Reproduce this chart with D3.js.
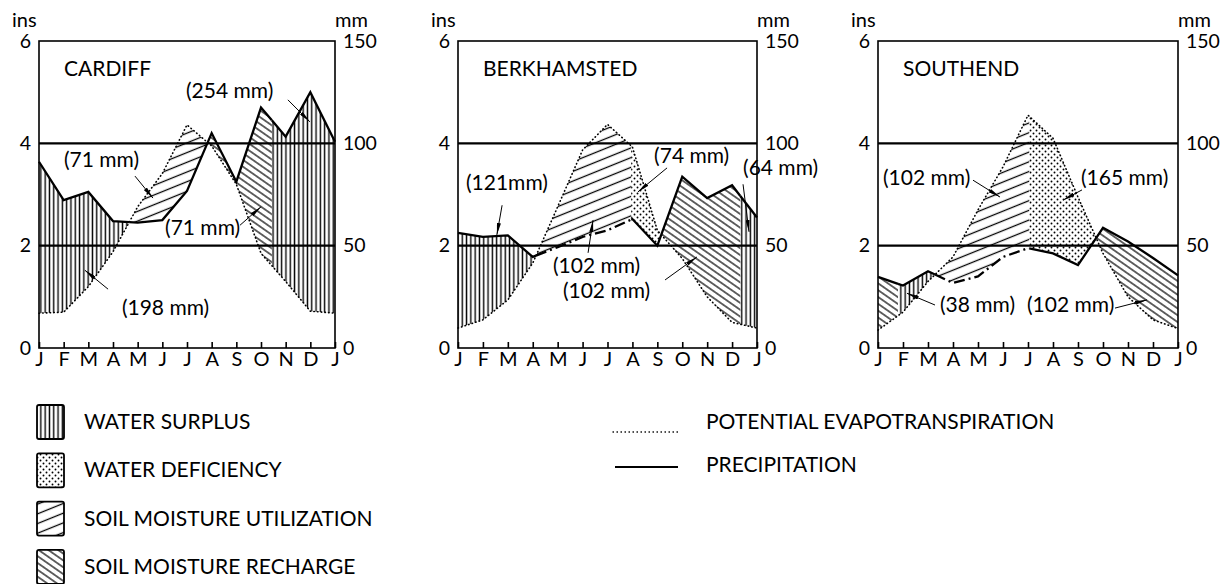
<!DOCTYPE html>
<html><head><meta charset="utf-8">
<script src="https://cdn.jsdelivr.net/npm/d3@7"></script>
<style>
body{margin:0;background:#fff}
svg{display:block;font-family:Lato,"Open Sans",sans-serif}
</style></head><body>
<svg id="c" width="1221" height="584"></svg>
<script>
// ---------- DATA ----------
const months = ["J","F","M","A","M","J","J","A","S","O","N","D","J"];
const insTicks = [0,2,4,6];
const mmTicks = [0,50,100,150];
const stationNames = ["CARDIFF","BERKHAMSTED","SOUTHEND"];

// monthly values in inches (Jan..Dec, Jan)
const cardiffPrecip = [3.64,2.89,3.05,2.48,2.45,2.5,3.07,4.2,3.25,4.7,4.13,5.0,4.03];
const cardiffPE     = [0.68,0.7,1.2,1.88,2.76,3.41,4.36,3.95,3.2,1.85,1.3,0.72,0.68];
const berkPrecip    = [2.25,2.17,2.2,1.78,1.97,2.17,2.3,2.52,2.0,3.35,2.93,3.18,2.55];
const berkPE        = [0.39,0.55,0.94,1.66,2.76,3.87,4.37,3.93,2.3,1.75,1.0,0.5,0.39];
const southPrecip   = [1.39,1.22,1.5,1.27,1.4,1.78,1.95,1.85,1.62,2.35,2.08,1.76,1.42];
const southPE       = [0.35,0.7,1.3,1.78,2.7,3.54,4.55,4.1,2.95,1.85,1.0,0.55,0.38];

// water-balance zones: type of each zone and the month positions bounding them
const cardiffZones  = ["surplus","utilization","recharge","surplus"];
const cardiffBreaks = [0,3.66,6.84,9.44,12];
const berkZones     = ["surplus","utilization","deficiency","recharge","surplus"];
const berkBreaks    = [0,3.13,6.95,8.16,11.33,12];
const southZones    = ["recharge","surplus","utilization","deficiency","recharge"];
const southBreaks   = [0,0.8,2.28,6.05,8.73,12];
// precipitation drawn dash-dot beneath the utilization zone
const dashedUnderUtilization = [false,true,true];

// annotations: label, label anchor [month, ins], arrow from/to [month, ins]
const cardiffNotes = [
  {label:"(254 mm)", at:[5.96,4.89], from:[10.09,4.85], to:[10.98,4.42]},
  {label:"(71 mm)",  at:[1.01,3.54], from:[3.89,3.36],  to:[4.62,2.93]},
  {label:"(71 mm)",  at:[5.11,2.21], from:[8.15,2.40],  to:[9.0,2.76]},
  {label:"(198 mm)", at:[3.36,0.64], from:[2.80,1.15],  to:[1.86,1.52]}
];
const berkNotes = [
  {label:"(121mm)",  at:[0.32,3.09], from:[1.77,2.79], to:[1.56,2.21]},
  {label:"(74 mm)",  at:[7.87,3.62], from:[8.39,3.52], to:[7.22,3.05]},
  {label:"(64 mm)",  at:[11.44,3.38],from:[11.44,3.2], to:[11.68,2.27]},
  {label:"(102 mm)", at:[3.81,1.47], from:[5.22,1.86], to:[5.42,2.5]},
  {label:"(102 mm)", at:[4.21,0.98], from:[8.31,1.33], to:[9.59,1.78]}
];
const southNotes = [
  {label:"(102 mm)", at:[0.2,3.19],  from:[3.8,3.28],  to:[4.88,2.95]},
  {label:"(165 mm)", at:[8.12,3.19], from:[8.16,3.09], to:[7.4,2.89]},
  {label:"(38 mm)",  at:[2.48,0.70], from:[2.28,0.84], to:[1.16,1.07]},
  {label:"(102 mm)", at:[5.96,0.70], from:[9.48,0.78], to:[10.76,0.94]}
];

const legendAreas = [
  {type:"surplus", label:"WATER SURPLUS"},
  {type:"deficiency", label:"WATER DEFICIENCY"},
  {type:"utilization", label:"SOIL MOISTURE UTILIZATION"},
  {type:"recharge", label:"SOIL MOISTURE RECHARGE"}
];
const legendLines = ["POTENTIAL EVAPOTRANSPIRATION","PRECIPITATION"];

const stations = [
  {name:stationNames[0], precip:cardiffPrecip, pe:cardiffPE, zones:cardiffZones, breaks:cardiffBreaks, notes:cardiffNotes},
  {name:stationNames[1], precip:berkPrecip, pe:berkPE, zones:berkZones, breaks:berkBreaks, notes:berkNotes},
  {name:stationNames[2], precip:southPrecip, pe:southPE, zones:southZones, breaks:southBreaks, notes:southNotes}
];

// ---------- LAYOUT ----------
const svg = d3.select("#c");
const panelX = [[39,335],[458,757],[878,1178]];
const yTop = 41, yBottom = 348;
const FS = 21;

const defs = svg.append("defs");
function linePattern(id, w, h, angle, sw){
  const p = defs.append("pattern").attr("id",id).attr("patternUnits","userSpaceOnUse")
    .attr("width",w).attr("height",h).attr("patternTransform",`rotate(${angle})`);
  p.append("line").attr("x1",0).attr("x2",w).attr("y1",h/2).attr("y2",h/2)
    .attr("stroke","#000").attr("stroke-width",sw);
}
linePattern("p-surplus", 8, 4.3, 90, 1.4);
linePattern("p-recharge", 8, 5.6, 35, 1.2);
linePattern("p-utilization", 10, 9, -22, 1.3);
const dp = defs.append("pattern").attr("id","p-deficiency").attr("patternUnits","userSpaceOnUse")
  .attr("width",6).attr("height",6);
dp.append("circle").attr("cx",1.5).attr("cy",1.5).attr("r",0.95).attr("fill","#000");
dp.append("circle").attr("cx",4.5).attr("cy",4.5).attr("r",0.95).attr("fill","#000");
defs.append("marker").attr("id","arr").attr("viewBox","0 0 12 4").attr("refX",12).attr("refY",2)
  .attr("markerUnits","userSpaceOnUse").attr("markerWidth",12).attr("markerHeight",4).attr("orient","auto")
  .append("path").attr("d","M0,0L12,2L0,4Z").attr("fill","#000");

function interp(arr, t){
  const i = Math.min(Math.floor(t), arr.length-2);
  const f = t - i;
  return arr[i]*(1-f) + arr[i+1]*f;
}

stations.forEach((st, k) => {
  const [x0,x1] = panelX[k];
  const x = d3.scaleLinear().domain([0,12]).range([x0,x1]);
  const y = d3.scaleLinear().domain([0,6]).range([yBottom,yTop]);
  const yR = d3.scaleLinear().domain([0,150]).range([yBottom,yTop]);
  const g = svg.append("g");
  const zoneTs = z => {
    const a = st.breaks[z], b = st.breaks[z+1];
    return [a, ...d3.range(Math.floor(a)+1, Math.ceil(b)), b];
  };

  // zones
  st.zones.forEach((type, z) => {
    const upperIsP = (type==="surplus"||type==="recharge");
    const area = d3.area()
      .x(t => x(t))
      .y0(t => y(interp(upperIsP?st.pe:st.precip, t)))
      .y1(t => y(interp(upperIsP?st.precip:st.pe, t)));
    g.append("path").attr("d", area(zoneTs(z))).attr("fill",`url(#p-${type})`);
  });

  // grid lines at 2 and 4 ins
  g.selectAll(".grid").data([2,4]).join("line")
    .attr("x1",x0).attr("x2",x1).attr("y1",d=>y(d)).attr("y2",d=>y(d))
    .attr("stroke","#000").attr("stroke-width",2.3);

  const idx = d3.range(months.length);
  g.append("path").attr("d", d3.line().x(i=>x(i)).y(i=>y(st.pe[i]))(idx))
    .attr("fill","none").attr("stroke","#000")
    .attr("stroke-width",1.6).attr("stroke-dasharray","0.5,3.2").attr("stroke-linecap","round");
  // precipitation, zone by zone
  const pLine = d3.line().x(t=>x(t)).y(t=>y(interp(st.precip,t)));
  st.zones.forEach((type, z) => {
    const dashed = dashedUnderUtilization[k] && type==="utilization";
    g.append("path").attr("d", pLine(zoneTs(z))).attr("fill","none").attr("stroke","#000")
      .attr("stroke-width",2.3).attr("stroke-linejoin","miter")
      .attr("stroke-dasharray", dashed ? "11,4,2,4" : null);
  });

  // frame
  g.append("rect").attr("x",x0).attr("y",yTop).attr("width",x1-x0).attr("height",yBottom-yTop)
    .attr("fill","none").attr("stroke","#000").attr("stroke-width",1.6);

  // axes
  const ax = g.append("g").attr("transform",`translate(${x0},0)`)
    .call(d3.axisLeft(y).tickValues(insTicks).tickSize(0).tickPadding(8).tickFormat(d3.format("d")));
  const axR = g.append("g").attr("transform",`translate(${x1},0)`)
    .call(d3.axisRight(yR).tickValues(mmTicks).tickSize(0).tickPadding(8).tickFormat(d3.format("d")));
  const axB = g.append("g").attr("transform",`translate(0,${yBottom})`)
    .call(d3.axisBottom(x).tickValues(d3.range(13)).tickSize(-6).tickPadding(4).tickFormat(i=>months[i]));
  [ax,axR,axB].forEach(a => {
    a.select(".domain").remove();
    a.selectAll("text").attr("font-family","Lato, sans-serif").attr("font-size",19.5).attr("fill","#000");
    a.selectAll("line").attr("stroke","#000").attr("stroke-width",1.6);
  });
  axB.selectAll("text").attr("font-size",20);

  g.append("text").attr("x",x0-27).attr("y",27).attr("font-size",20).text("ins");
  g.append("text").attr("x",x1).attr("y",27).attr("font-size",20).text("mm");
  g.append("text").attr("x",x0+25).attr("y",76).attr("font-size",FS).text(st.name);

  // notes
  st.notes.forEach(n => {
    g.append("text").attr("x",x(n.at[0])).attr("y",y(n.at[1])).attr("font-size",FS).text(n.label);
    g.append("line").attr("x1",x(n.from[0])).attr("y1",y(n.from[1]))
      .attr("x2",x(n.to[0])).attr("y2",y(n.to[1]))
      .attr("stroke","#000").attr("stroke-width",1).attr("marker-end","url(#arr)");
  });
});

// ---------- LEGEND ----------
const lg = svg.append("g");
legendAreas.forEach((d,i) => {
  const yy = 405 + i*48.3;
  lg.append("rect").attr("x",37).attr("y",yy).attr("width",27).attr("height",34).attr("rx",2)
    .attr("fill",`url(#p-${d.type})`).attr("stroke","#000").attr("stroke-width",1.8);
  lg.append("text").attr("x",84).attr("y",yy+24).attr("font-size",FS).text(d.label);
});
lg.append("line").attr("x1",613).attr("x2",678).attr("y1",432).attr("y2",432)
  .attr("stroke","#000").attr("stroke-width",1.3).attr("stroke-dasharray","0.5,3.5").attr("stroke-linecap","round");
lg.append("line").attr("x1",615).attr("x2",678).attr("y1",467).attr("y2",467)
  .attr("stroke","#000").attr("stroke-width",2);
legendLines.forEach((t,i) => {
  lg.append("text").attr("x",706).attr("y",429+i*43).attr("font-size",FS).text(t);
});
</script>
</body></html>
